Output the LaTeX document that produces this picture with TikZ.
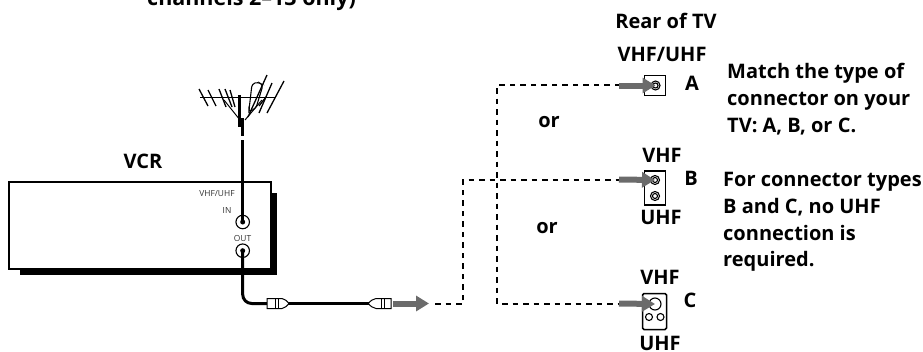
\documentclass[tikz,border=0pt]{standalone}
\usepackage{fontspec}
\setmainfont{Open Sans}
\usetikzlibrary{arrows.meta}
\tikzset{
 x=1pt,y=-1pt,
 lab/.style={font=\fontsize{20}{26.8}\selectfont\bfseries,inner sep=0,align=left},
 small/.style={font=\fontsize{8.4}{10}\selectfont,inner sep=0,text=black!80},
 dashline/.style={line width=2pt,dash pattern=on 5.5pt off 5pt},
 cable/.style={line width=3pt},
 grayarrow/.style={line width=6pt,draw=black!58,-{Triangle[length=13pt,width=15pt,fill=black!58]}},
 plugbody/.style={draw=black,line width=1pt,fill=white},
 jack/.style={circle,draw=black,line width=1.1pt,fill=white,inner sep=0,minimum size=#1},
 panel/.style={draw=black,line width=1.5pt,fill=white},
}
\begin{document}
\begin{tikzpicture}
\useasboundingbox (0,0) rectangle (923,351);
% VCR
\fill[black] (20,193) rectangle (277,275);
\fill[white] (20,181) rectangle (277,193);
\node[draw=black,line width=1.6pt,fill=white,minimum width=262pt,minimum height=87pt,inner sep=0,anchor=north west] (vcr) at (8,181) {};
\node[lab] (vcrl) at (143,161) {VCR};
\node[small] (vhfl) at (217,194) {VHF/UHF};
\node[small] (inl) at (227,210) {IN};
\node[small] (outl) at (242.5,238) {OUT};
\node[jack=13.5pt] (in) at (242.7,222) {};
\node[jack=13.5pt] (out) at (242.7,250.7) {};
% antenna
\coordinate (ant) at (242.7,135.5);
\coordinate (cabtop) at (242.7,140);
\begin{scope}[line cap=butt]
\draw[line width=1.3pt] (200,97.5) -- (275,97.5);
\foreach \a/\b/\c/\d in {199/89/208/106, 208/90/216/106, 219/89/226/107, 225/89/232/107, 230/90/235/107, 267/75/248/117, 272/83/259/113, 284/81/267/113, 266/97/259/106}
  \draw[line width=1.3pt] (\a+0,\b+0) -- (\c+0,\d+0);
\draw[line width=1pt] (224,100) -- (240,120);
\draw[line width=1pt] (262,100) -- (245,120);
\draw[line width=1.1pt,rounded corners=3pt] (249,110) -- (252,84) -- (258,82) -- (263,85) -- (256,108) -- (249,112) -- cycle;
\draw[line width=3pt] (239.5,95) -- (239.5,127);
\draw[line width=3pt] (242.7,118) -- (ant);
\end{scope}
\draw[cable] (cabtop) -- (in.center);
\fill (in.center) circle (2.5pt);
\fill (out.center) circle (2.5pt);
% lower cable
\coordinate (pA) at (267,303.5);
\coordinate (pB) at (391,303.5);
\draw[cable,rounded corners=9pt] (out.center) -- (242.7,303.5) -- (pA);
\draw[cable] (285,303.5) -- (372,303.5);
\draw[plugbody] (267,298.5) -- (282,298.5) .. controls (285,299) and (287,301) .. (289,303.5) .. controls (287,306) and (285,308) .. (282,308.5) -- (267,308.5) -- cycle;
\draw[line width=.8pt] (275,298.5)--(275,308.5) (278,298.5)--(278,308.5);
\draw[plugbody] (391,298.5) -- (376,298.5) .. controls (373,299) and (370,301) .. (368,303.5) .. controls (370,306) and (373,308) .. (376,308.5) -- (391,308.5) -- cycle;
\draw[line width=.8pt] (381,298.5)--(381,308.5) (384,298.5)--(384,308.5);
\draw[grayarrow] (393,303.5) -- (429,303.5);
% dashed
\coordinate (d0) at (435,303.5);
\coordinate (dc) at (463,303.5);
\coordinate (dbt) at (463,179.5);
\coordinate (ab) at (497,85);
\coordinate (cb) at (497,303.5);
\coordinate (ae) at (620,85);
\coordinate (be) at (620,179.5);
\coordinate (ce) at (620,303.5);
\draw[dashline] (d0) -- (dc) -- (dbt) -- (be);
\draw[dashline] (ae) -- (ab) -- (cb) -- (ce);
% connectors
\node[panel,minimum width=21pt,minimum height=20pt,inner sep=0] (pnA) at (655,85.5) {};
\node[jack=9pt] (jA) at (655.5,85.5) {}; \node[jack=5pt] at (jA) {};
\node[panel,minimum width=21pt,minimum height=34pt,inner sep=0] (pnB) at (655,188) {};
\node[jack=9pt] (jB) at (655,180) {}; \node[jack=5pt] at (jB) {};
\node[jack=9pt] (jB2) at (655,196) {}; \node[jack=5pt] at (jB2) {};
\node[panel,rounded corners=1.5pt,minimum width=24pt,minimum height=36pt,inner sep=0] (pnC) at (654.5,311.5) {};
\node[jack=12pt] (jC) at (655,304) {};
\node[jack=7pt] (jC2) at (649,317) {};
\node[jack=7pt] (jC3) at (660.5,317) {};
\draw[grayarrow] (619,85.5) -- (jA.center);
\draw[grayarrow] (619,179.5) -- (jB.center);
\draw[grayarrow] (619,303.5) -- (jC.center);
% texts
\node[lab,font=\fontsize{21.5}{26.8}\selectfont\bfseries,anchor=base west] (t0) at (147,5) {channels 2--13 only)};
\node[lab] (t1) at (666,21) {Rear of TV};
\node[lab] (t2) at (662,54) {VHF/UHF};
\node[lab] (ta) at (692,83) {A};
\node[lab] (tb) at (691,178) {B};
\node[lab] (tc) at (690,300) {C};
\node[lab] (t3) at (662,155) {VHF};
\node[lab] (t4) at (661,217) {UHF};
\node[lab] (t5) at (660,277) {VHF};
\node[lab] (t6) at (660,343) {UHF};
\node[lab] (or1) at (549,122) {or};
\node[lab] (or2) at (547,228) {or};
\node[lab,anchor=north west] (n1) at (727,63) {Match the type of\\connector on your\\TV: A, B, or C.};
\node[lab,anchor=north west] (n2) at (723,172) {For connector types\\B and C, no UHF\\connection is\\required.};
\end{tikzpicture}
\end{document}
